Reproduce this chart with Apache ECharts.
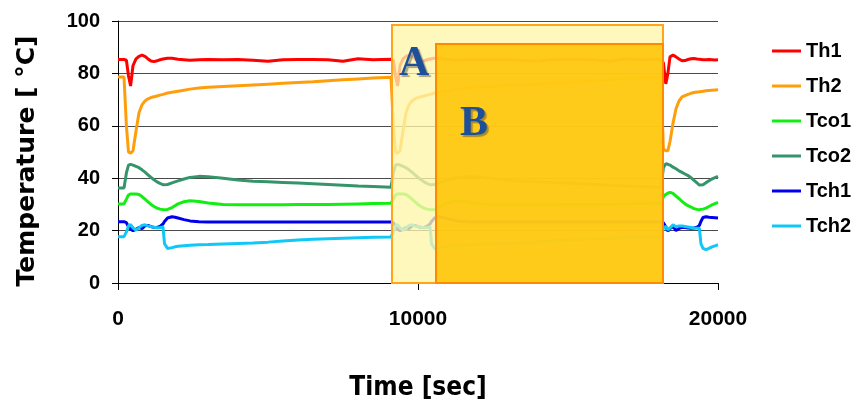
<!DOCTYPE html>
<html>
<head>
<meta charset="utf-8">
<script src="https://cdn.jsdelivr.net/npm/echarts@6/dist/echarts.min.js"></script>
<style>html,body{margin:0;padding:0;background:#fff}#c{width:855px;height:400px}</style>
</head>
<body>
<div id="c"></div>
<script>
const seriesNames = ['Th1', 'Th2', 'Tco1', 'Tco2', 'Tch1', 'Tch2'];
const xTicks = [0, 10000, 20000];
const yTicks = [0, 20, 40, 60, 80, 100];

const times = [
  0,200,280,350,420,500,600,700,800,900,1000,1100,1200,1300,1400,1500,1550,1650,1800,1900,2000,2200,2400,2700,3000,3500,4000,4500,5000,5500,6000,6500,7000,7500,8000,8500,9100,
  9180,9250,9320,9400,9500,9600,9700,9800,9900,10000,10100,10200,10300,10400,10450,10550,10700,10800,10900,11100,11300,11600,11900,12400,12900,13400,13900,14400,14900,15400,15900,16400,16900,17400,18000,
  18100,18180,18260,18330,18400,18500,18600,18700,18800,18900,19000,19100,19200,19300,19380,19430,19500,19600,19700,19800,19900,20000
];

const th1 = [
  85.3,85.3,85,79,75.2,83,85.5,86.5,87,86.5,85.5,84.7,84.5,84.8,85.2,85.5,85.6,85.8,85.8,85.6,85.4,85.2,85,85.2,85.3,85.2,85.3,85,84.6,85.2,85.3,85.3,85.2,84.6,85.6,85.2,85.4,
  85,79,75.2,83,85.5,86.5,87,86.5,85.5,84.7,84.5,84.8,85.2,85.5,85.6,85.8,85.8,85.6,85.4,85.2,85,85.2,85.3,85.2,85.3,85,84.6,85.2,85.3,85.3,85.2,84.6,85.6,85.2,85.4,
  85.2,84,76,80,86.3,87,86.3,85.5,84.8,84.9,85.3,85.6,85.7,85.5,85.4,85.3,85.2,85.2,85.3,85.2,85.1,85.2
];
const th2 = [
  78.6,78.6,60,50,49.5,50.5,58,65,68,69.5,70.3,70.8,71.1,71.4,71.7,72,72.2,72.5,72.8,73,73.2,73.6,74,74.4,74.7,75,75.3,75.6,75.9,76.2,76.5,76.8,77.2,77.6,77.9,78.2,78.5,
  60,50,49.5,50.5,58,65,68,69.5,70.3,70.8,71.1,71.4,71.7,72,72.2,72.5,72.8,73,73.2,73.6,74,74.4,74.7,75,75.3,75.6,75.9,76.2,76.5,76.8,77.2,77.6,77.9,78.2,78.5,
  78.3,51,50.5,50.5,54,61,66.5,69.5,71,71.5,72,72.4,72.7,72.9,73,73.1,73.2,73.4,73.5,73.6,73.7,73.8
];
const tco1 = [
  30.2,30.2,32,33.6,34,34,34,33.8,33,32,31,30,29.2,28.6,28.2,28,27.9,28.1,28.8,29.5,30.2,31,31.4,31.1,30.5,30,29.9,29.9,29.9,29.9,30,30,30,30.1,30.2,30.3,30.4,
  32,33.6,34,34,34,33.8,33,32,31,30,29.2,28.6,28.2,28,27.9,28.1,28.8,29.5,30.2,31,31.4,31.1,30.5,30,29.9,29.9,29.9,29.9,30,30,30,30.1,30.2,30.3,30.4,
  30.2,33,33.8,34.3,34.6,34.2,33.2,32.2,31.2,30.2,29.5,29,28.4,28.1,28,28,28.2,28.6,29.2,29.8,30.3,30.8
];
const tco2 = [
  36.3,36.3,42,45,45.3,45,44.5,44,43.2,42.3,41.3,40.3,39.4,38.6,38,37.5,37.3,37.6,38.2,38.6,39,39.7,40.3,40.7,40.6,40,39.3,38.8,38.6,38.4,38.2,37.9,37.6,37.3,37,36.8,36.5,
  42,45,45.3,45,44.5,44,43.2,42.3,41.3,40.3,39.4,38.6,38,37.5,37.3,37.6,38.2,38.6,39,39.7,40.3,40.7,40.6,40,39.3,38.8,38.6,38.4,38.2,37.9,37.6,37.3,37,36.8,36.5,
  36.5,44,45.5,45.3,45,44.2,43.6,42.8,42.2,41.6,41,40.2,39.2,38.2,37.4,37.2,37.5,38.3,39,39.7,40.2,40.7
];
const tch1 = [
  23.4,23.4,23,21.5,20.5,20,20.5,21.2,20.8,21.8,22,21.5,21.2,21.2,21.6,22.5,23.5,24.8,25.3,25.1,24.8,24.2,23.7,23.4,23.3,23.3,23.3,23.3,23.3,23.3,23.3,23.3,23.3,23.3,23.3,23.3,23.3,
  23,21.5,20.5,20,20.5,21.2,20.8,21.8,22,21.5,21.2,21.2,21.6,22.5,23.5,24.8,25.3,25.1,24.8,24.2,23.7,23.4,23.3,23.3,23.3,23.3,23.3,23.3,23.3,23.3,23.3,23.3,23.3,23.3,23.3,
  23.3,23,21.5,19.8,20.8,21.6,20,20.8,21.3,21.2,21,20.9,21,21.3,22,23.5,25,25.3,25.1,25,24.9,24.8
];
const tch2 = [
  17.7,17.7,19.5,21.8,22.3,21,20.2,21,22,22.2,21.8,21.5,21.3,21.1,21.2,21.4,15,13.2,13.5,13.8,14,14.2,14.4,14.6,14.7,14.9,15.1,15.3,15.6,16,16.4,16.7,16.9,17.1,17.3,17.5,17.6,
  19.5,21.8,22.3,21,20.2,21,22,22.2,21.8,21.5,21.3,21.1,21.2,21.4,15,13.2,13.5,13.8,14,14.2,14.4,14.6,14.7,14.9,15.1,15.3,15.6,16,16.4,16.7,16.9,17.1,17.3,17.5,17.6,
  17.6,21,21.6,20.3,21,22.2,21.5,21.8,21.8,21.6,21.4,21.2,21,20.9,20.9,15,13.2,12.7,13.2,13.8,14.2,14.6
];

// Highlighted regions: [start time, end time, top temperature]
const boxA = [9133, 18167, 98.5];
const boxB = [10600, 18167, 91.2];
const boxLabels = ['A', 'B'];

const values = [th1, th2, tco1, tco2, tch1, tch2];
const colors = ['#ff0000', '#ff9e0b', '#12ee12', '#34946a', '#0000ee', '#10c8f8'];

const chart = echarts.init(document.getElementById('c'), null, {renderer: 'canvas'});
const labelFont = '"Liberation Sans", Arial, sans-serif';
const letterStyle = {
  show: true, fontFamily: 'Liberation Serif', fontWeight: 'bold', fontSize: 42,
  color: '#1d4f9a', textShadowColor: 'rgba(60,60,60,0.45)', textShadowOffsetX: 2, textShadowOffsetY: 2, textShadowBlur: 1
};

const series = seriesNames.map((name, k) => ({
  name, type: 'line', symbol: 'none', showSymbol: false, animation: false,
  lineStyle: {width: 3, color: colors[k]}, itemStyle: {color: colors[k]},
  data: times.map((t, i) => [t, values[k][i]])
}));
series[series.length - 1].markArea = {
  z: 5, silent: true,
  data: [
    [{coord: [boxA[0], boxA[2]], itemStyle: {color: 'rgba(255,246,170,0.78)', borderColor: '#ffa51a', borderWidth: 2},
      label: Object.assign({formatter: boxLabels[0], position: [8, 19]}, letterStyle)},
     {coord: [boxA[1], 0]}],
    [{coord: [boxB[0], boxB[2]], itemStyle: {color: 'rgba(255,196,0,0.86)', borderColor: '#ff8a00', borderWidth: 2},
      label: Object.assign({formatter: boxLabels[1], position: [25, 60]}, letterStyle)},
     {coord: [boxB[1], 0]}]
  ]
};

chart.setOption({
  animation: false,
  grid: {left: 118, right: 137, top: 21, bottom: 117, containLabel: false, outerBoundsMode: 'none'},
  legend: {
    orient: 'vertical', left: 772, top: 41, padding: 0, itemWidth: 29, itemHeight: 14, itemGap: 15,
    icon: 'path://M0,6 L29,6 L29,9 L0,9 Z',
    textStyle: {fontFamily: labelFont, fontWeight: 'bold', fontSize: 20, lineHeight: 20, color: '#000'},
    data: seriesNames
  },
  xAxis: {
    type: 'value', min: xTicks[0], max: xTicks[xTicks.length - 1], interval: xTicks[1] - xTicks[0],
    name: 'Time [sec]', nameLocation: 'middle', nameGap: 92,
    nameTextStyle: {fontFamily: 'DejaVu Sans Condensed', fontWeight: 'bold', fontSize: 26, color: '#000'},
    axisLine: {show: true, lineStyle: {color: '#000', width: 1}},
    axisTick: {show: true, length: 7, lineStyle: {color: '#000'}},
    axisLabel: {margin: 26, fontFamily: labelFont, fontWeight: 'bold', fontSize: 21, color: '#000', formatter: v => String(v)},
    splitLine: {show: false}
  },
  yAxis: {
    type: 'value', min: yTicks[0], max: yTicks[yTicks.length - 1], interval: yTicks[1] - yTicks[0],
    name: 'Temperature [ °C]', nameLocation: 'middle', nameGap: 78, nameRotate: 90,
    nameTextStyle: {fontFamily: 'DejaVu Sans', fontWeight: 'bold', fontSize: 25, color: '#000', padding: [0, 18, 0, 0]},
    axisLine: {show: true, lineStyle: {color: '#000', width: 1}},
    axisTick: {show: true, length: 6, lineStyle: {color: '#000'}},
    axisLabel: {margin: 18, fontFamily: labelFont, fontWeight: 'bold', fontSize: 20, color: '#000'},
    splitLine: {show: true, lineStyle: {color: '#4a4a4a', width: 1}}
  },
  series
});
</script>
</body>
</html>
